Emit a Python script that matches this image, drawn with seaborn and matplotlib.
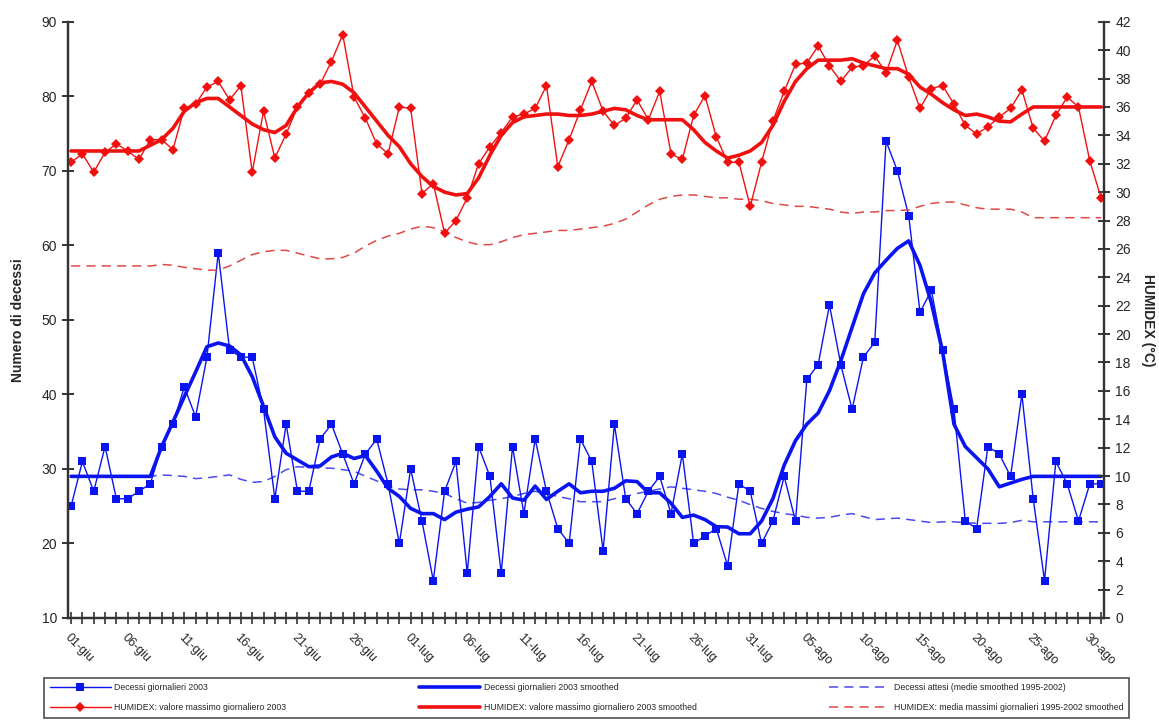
import numpy as np
import pandas as pd
import matplotlib
matplotlib.use("Agg")
import matplotlib.pyplot as plt
import seaborn as sns

# Daily deaths 2003 (1 June - 31 August)
deaths_daily = [25, 31, 27, 33, 26, 26, 27, 28, 33, 36, 41, 37, 45, 59, 46, 45, 45, 38, 26, 36,
                27, 27, 34, 36, 32, 28, 32, 34, 28, 20,
                30, 23, 15, 27, 31, 16, 33, 29, 16, 33, 24, 34, 27, 22, 20, 34, 31, 19, 36, 26,
                24, 27, 29, 24, 32, 20, 21, 22, 17, 28, 27, 20, 23,
                29, 23, 42, 44, 52, 44, 38, 45, 47, 74, 70, 64, 51, 54, 46, 38, 23, 22, 33, 32,
                29, 40, 26, 15, 31, 28, 23, 28, 28]

deaths_smooth = [29, 29, 29, 29, 29, 29, 29, 29, 33.0, 36.3, 39.7, 43.0, 46.4, 46.9, 46.5, 45.3,
                 42.4, 38.4, 34.3, 32.1, 31.2, 30.3, 30.4, 31.6, 32.1, 31.4, 31.8, 29.7, 27.4, 26.3,
                 24.7, 24.0, 24.0, 23.2, 24.2, 24.6, 24.9, 26.3, 28.0, 26.1, 25.8, 27.7, 25.9, 27.0,
                 28.0, 26.8, 27.0, 27.0, 27.4, 28.4, 28.3, 26.8, 26.8, 25.4, 23.5, 23.8, 23.2, 22.25,
                 22.2, 21.3, 21.3, 23.0, 26.0, 30.5, 33.8, 36.0, 37.5, 40.5, 44.5, 49.0, 53.5, 56.3,
                 58.0, 59.6, 60.6, 57.3, 52.3, 45.7, 36.0, 33.0, 31.5, 30.0, 27.6, 28.1, 28.6, 29,
                 29, 29, 29, 29, 29, 29]

deaths_expected = [29.0, 29.0, 29.0, 29.0, 29.0, 29.0, 29.0, 29.0, 29.2, 29.1, 29.0, 28.7, 28.8,
                   29.0, 29.2, 28.6, 28.2, 28.3, 29.0, 29.9, 30.3, 30.2, 30.1, 30.1, 29.9, 29.7,
                   29.0, 28.4, 27.7, 27.3, 27.2, 27.2, 27.0, 26.7, 26.0, 25.4, 25.5, 25.8, 26.0,
                   26.3, 26.7, 27.0, 26.7, 26.3, 26.0, 25.6, 25.6, 25.6, 26.0, 26.3, 26.7, 27.0,
                   27.3, 27.6, 27.4, 27.2, 27.0, 26.7, 26.2, 25.8, 25.2, 24.7, 24.3, 24.0, 23.8,
                   23.5, 23.4, 23.5, 23.8, 24.0, 23.6, 23.2, 23.3, 23.4, 23.2, 23.0, 22.8, 22.9,
                   22.9, 22.8, 22.7, 22.7, 22.7, 22.8, 23.1, 22.9, 22.9, 22.9, 22.9, 22.9, 22.9,
                   22.9]

# HUMIDEX daily maximum 2003 (°C)
humidex_daily = [32.1, 32.7, 31.4, 32.8, 33.4, 32.9, 32.3, 33.7, 33.7, 33.0,
                 35.9, 36.2, 37.4, 37.8, 36.5, 37.5, 31.4, 35.7, 32.4, 34.1,
                 36.0, 37.0, 37.6, 39.2, 41.1, 36.7, 35.2, 33.4, 32.7, 36.0,
                 35.9, 29.9, 30.6, 27.1, 28.0, 29.6, 32.0, 33.2, 34.2, 35.3,
                 35.5, 35.9, 37.5, 31.8, 33.7, 35.8, 37.8, 35.7, 34.7, 35.2,
                 36.5, 35.1, 37.1, 32.7, 32.3, 35.4, 36.8, 33.9, 32.1, 32.1,
                 29.0, 32.1, 35.0, 37.1, 39.0, 39.1, 40.3, 38.9, 37.8, 38.8,
                 38.9, 39.6, 38.4, 40.7, 38.1, 35.9, 37.3, 37.5, 36.2, 34.7,
                 34.1, 34.6, 35.3, 35.9, 37.2, 34.5, 33.6, 35.4, 36.7, 36.0,
                 32.2, 29.6]

humidex_smooth = [32.9, 32.9, 32.9, 32.9, 32.9, 32.9, 32.9, 33.3, 33.7, 34.5,
                  35.7, 36.3, 36.6, 36.6, 36.0, 35.4, 34.8, 34.4, 34.2, 34.7,
                  36.0, 37.0, 37.7, 37.8, 37.6, 37.0, 36.0, 35.0, 34.0, 33.2,
                  32.0, 31.1, 30.4, 30.0, 29.8, 29.9, 31.0, 32.6, 34.0, 34.9,
                  35.3, 35.4, 35.5, 35.5, 35.4, 35.4, 35.5, 35.7, 35.9, 35.8,
                  35.4, 35.1, 35.1, 35.1, 35.1, 34.4, 33.5, 32.9, 32.4, 32.6,
                  32.9, 33.5, 34.7, 36.4, 37.8, 38.7, 39.3, 39.3, 39.3, 39.4,
                  39.1, 38.9, 38.7, 38.7, 38.3, 37.4, 36.9, 36.3, 35.8, 35.4,
                  35.5, 35.3, 35.0, 34.95, 35.5, 36.0, 36.0, 36.0, 36.0, 36.0,
                  36.0, 36.0]

humidex_mean = [24.8, 24.8, 24.8, 24.8, 24.8, 24.8, 24.8, 24.8, 24.9, 24.85,
                24.7, 24.6, 24.5, 24.5, 24.8, 25.2, 25.6, 25.8, 25.9, 25.9,
                25.7, 25.5, 25.3, 25.3, 25.4, 25.7, 26.2, 26.6, 26.9, 27.1,
                27.4, 27.6, 27.5, 27.2, 26.8, 26.5, 26.3, 26.3, 26.5, 26.8,
                27.0, 27.1, 27.2, 27.3, 27.3, 27.4, 27.5, 27.6, 27.8, 28.1,
                28.6, 29.1, 29.5, 29.7, 29.8, 29.8, 29.7, 29.6, 29.6, 29.5,
                29.5, 29.4, 29.2, 29.1, 29.0, 29.0, 28.9, 28.8, 28.6, 28.5,
                28.6, 28.6, 28.7, 28.7, 28.75, 29.0, 29.2, 29.3, 29.3, 29.1,
                28.9, 28.8, 28.8, 28.8, 28.6, 28.2, 28.2, 28.2, 28.2, 28.2,
                28.2, 28.2]

tick_labels = ["01-giu", "06-giu", "11-giu", "16-giu", "21-giu", "26-giu",
               "01-lug", "06-lug", "11-lug", "16-lug", "21-lug", "26-lug", "31-lug",
               "05-ago", "10-ago", "15-ago", "20-ago", "25-ago", "30-ago"]

day = np.arange(len(deaths_daily))
df = pd.DataFrame({
    "day": day,
    "deaths_daily": deaths_daily,
    "deaths_smooth": deaths_smooth,
    "deaths_expected": deaths_expected,
    "humidex_daily": humidex_daily,
    "humidex_smooth": humidex_smooth,
    "humidex_mean": humidex_mean,
})

sns.set_theme(style="white")
plt.rcParams["font.family"] = ["Liberation Sans", "DejaVu Sans"]

BLUE = "#0a14f0"
RED = "#f01010"

fig = plt.figure(figsize=(11.59, 7.27), dpi=100)
ax = fig.add_axes([0.0587, 0.150, 0.894, 0.820])
ax2 = ax.twinx()

# Deaths (left axis)
sns.lineplot(data=df, x="day", y="deaths_expected", ax=ax, color="#4a4af0", lw=1.1,
             linestyle=(0, (6, 4)), label="Decessi attesi (medie smoothed 1995-2002)")
sns.lineplot(data=df, x="day", y="deaths_daily", ax=ax, color=BLUE, lw=1.0,
             marker="s", markersize=6, markeredgewidth=0, label="Decessi giornalieri 2003")
sns.lineplot(data=df, x="day", y="deaths_smooth", ax=ax, color=BLUE, lw=2.6,
             label="Decessi giornalieri 2003 smoothed")

# HUMIDEX (right axis)
sns.lineplot(data=df, x="day", y="humidex_mean", ax=ax2, color="#e04848", lw=1.1,
             linestyle=(0, (6, 4)), label="HUMIDEX: media massimi giornalieri 1995-2002 smoothed")
sns.lineplot(data=df, x="day", y="humidex_daily", ax=ax2, color=RED, lw=1.0,
             marker="D", markersize=5.5, markeredgewidth=0, label="HUMIDEX: valore massimo giornaliero 2003")
sns.lineplot(data=df, x="day", y="humidex_smooth", ax=ax2, color=RED, lw=2.6,
             label="HUMIDEX: valore massimo giornaliero 2003 smoothed")

h1, l1 = ax.get_legend_handles_labels()
h2, l2 = ax2.get_legend_handles_labels()
ax.get_legend().remove()
ax2.get_legend().remove()
hd = dict(zip(l1 + l2, h1 + h2))

# axes limits and ticks
ax.set_xlim(-0.27, len(day) - 1 + 0.27)
ax.set_ylim(10, 90)
ax2.set_ylim(0, 42)
ax.set_yticks(np.arange(10, 91, 10))
ax2.set_yticks(np.arange(0, 43, 2))
ax.set_xticks(np.arange(0, len(day), 5))
ax.set_xticks(day, minor=True)
ax.set_xticklabels(tick_labels, rotation=-45, ha="left", va="top",
                   rotation_mode="anchor", fontsize=9)

for a in (ax, ax2):
    a.set_xlabel("")
    a.grid(False)
    for s in a.spines.values():
        s.set_color("#333333")
        s.set_linewidth(1.6)
    a.spines["top"].set_visible(False)

ax.tick_params(axis="y", which="both", direction="inout", length=8, width=1.4,
               color="#333333", labelsize=10, pad=4, left=True)
ax2.tick_params(axis="y", which="both", direction="inout", length=8, width=1.4,
                color="#333333", labelsize=10, pad=4, right=True)
ax.tick_params(axis="x", which="both", direction="inout", length=8, width=1.2,
               color="#333333", bottom=True, pad=6)

ax.set_ylabel("Numero di decessi", fontsize=10, fontweight="bold", labelpad=12)
ax2.set_ylabel("HUMIDEX (°C)", fontsize=10, fontweight="bold", rotation=270,
               va="center", ha="center")
ax2.yaxis.set_label_coords(1.042, 0.5)

order = ["Decessi giornalieri 2003",
         "HUMIDEX: valore massimo giornaliero 2003",
         "Decessi giornalieri 2003 smoothed",
         "HUMIDEX: valore massimo giornaliero 2003 smoothed",
         "Decessi attesi (medie smoothed 1995-2002)",
         "HUMIDEX: media massimi giornalieri 1995-2002 smoothed"]
leg = fig.legend([hd[k] for k in order], order, loc="lower left", ncol=3,
                 bbox_to_anchor=(0.0345, 0.007, 0.943, 0.062), mode="expand",
                 fontsize=6.3, handlelength=7, frameon=True, fancybox=False,
                 borderpad=0.6, labelspacing=1.3, handletextpad=0.4)
leg.get_frame().set_edgecolor("#222222")
leg.get_frame().set_linewidth(1.2)

fig.savefig("out.png", dpi=100, facecolor="white")
